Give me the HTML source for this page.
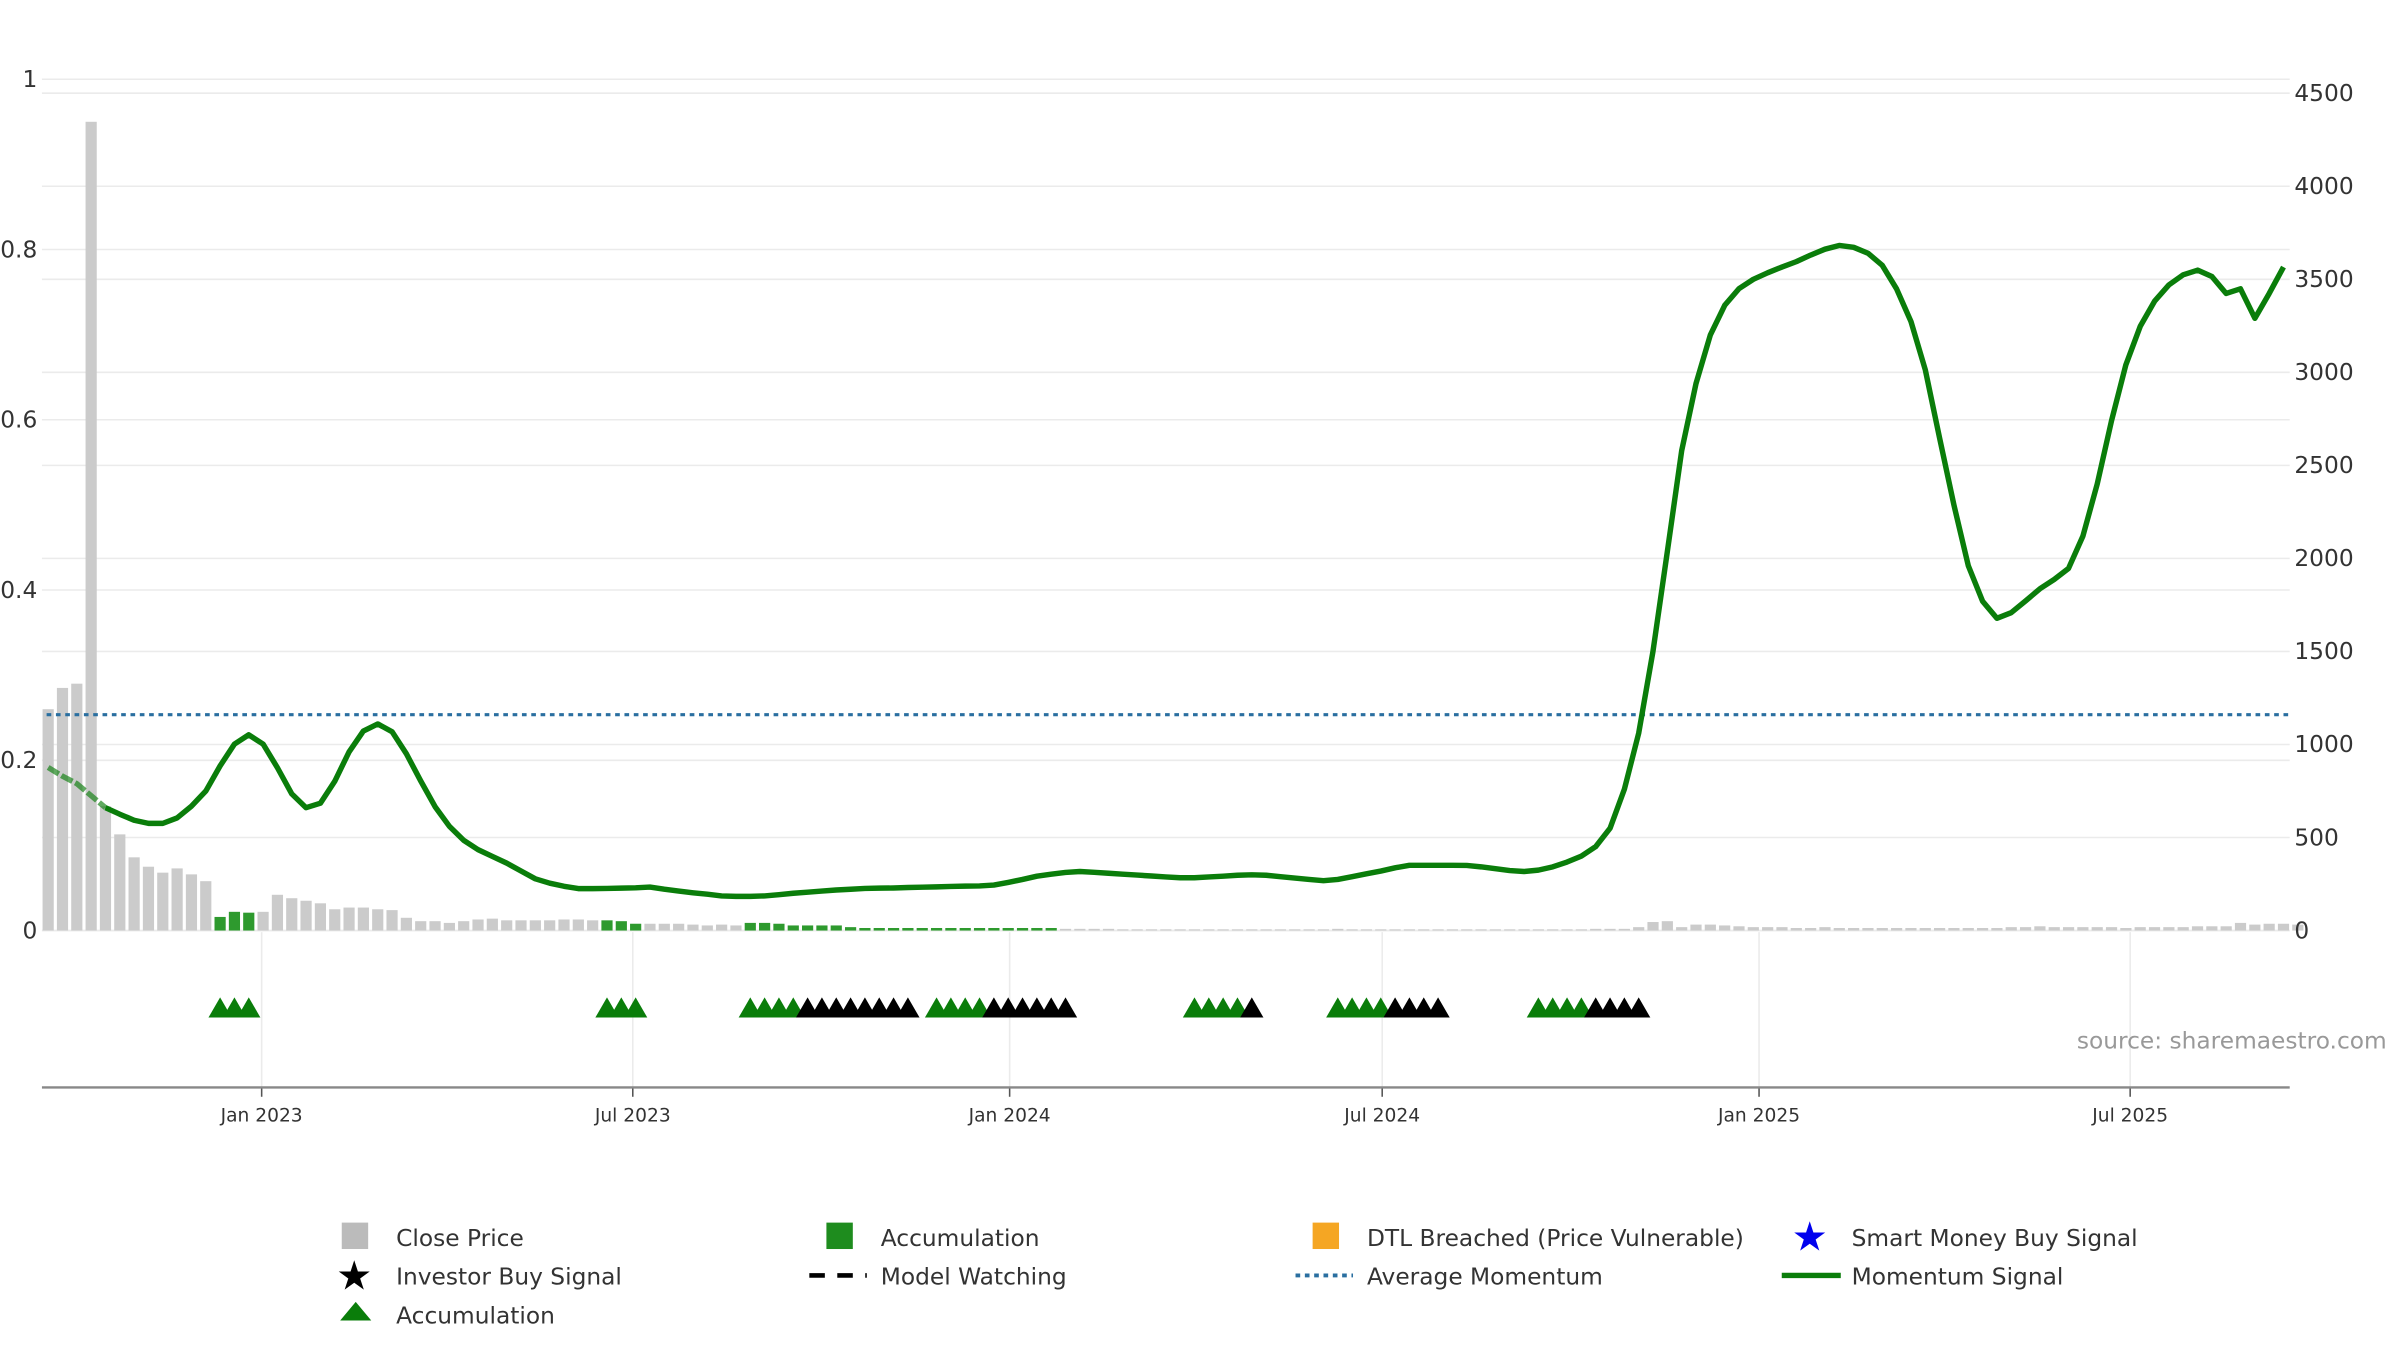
<!DOCTYPE html>
<html><head><meta charset="utf-8"><style>
html,body{margin:0;padding:0;background:#fff;}
svg{display:block;font-family:"DejaVu Sans","Liberation Sans",sans-serif;}
</style></head><body>
<svg id="chart" width="2400" height="1350" viewBox="0 0 1545 869" preserveAspectRatio="none" xmlns="http://www.w3.org/2000/svg">
<g id="grid"></g>
<g id="bars"></g>
<g id="lines"></g>
<g id="signals"></g>
<g id="axes"></g>
<text x="1337" y="675" font-size="15" fill="#999">source: sharemaestro.com</text>
<g id="legend" font-size="15" fill="#333">
  <rect x="220" y="787" width="17" height="17" fill="#bbb"/>
  <text x="255" y="802">Close Price</text>
  <rect x="532" y="787" width="17" height="17" fill="#1e8c1e"/>
  <text x="567" y="802">Accumulation</text>
  <rect x="845" y="787" width="17" height="17" fill="#f5a623"/>
  <text x="880" y="802">DTL Breached (Price Vulnerable)</text>
  <text x="1165" y="805" font-size="26" fill="#0000ee" text-anchor="middle">★</text>
  <text x="1192" y="802">Smart Money Buy Signal</text>
  <text x="228" y="830" font-size="26" fill="#000" text-anchor="middle">★</text>
  <text x="255" y="827">Investor Buy Signal</text>
  <line x1="521" y1="821" x2="558" y2="821" stroke="#000" stroke-width="3" stroke-dasharray="10,8"/>
  <text x="567" y="827">Model Watching</text>
  <line x1="834" y1="821" x2="871" y2="821" stroke="#2a6fa0" stroke-width="2.5" stroke-dasharray="3,3"/>
  <text x="880" y="827">Average Momentum</text>
  <line x1="1147" y1="821" x2="1185" y2="821" stroke="#0a7d0a" stroke-width="3.5"/>
  <text x="1192" y="827">Momentum Signal</text>
  <polygon points="219,850 229,838 239,850" fill="#0a7d0a"/>
  <text x="255" y="852">Accumulation</text>
</g>
<script>
const closePrice = [0.26,0.285,0.29,0.95,0.146,0.113,0.086,0.075,0.068,0.073,0.066,0.058,0.016,0.022,0.021,0.022,0.042,0.038,0.035,0.032,0.025,0.027,0.027,0.025,0.024,0.015,0.011,0.011,0.009,0.011,0.013,0.014,0.012,0.012,0.012,0.012,0.013,0.013,0.012,0.012,0.011,0.008,0.008,0.008,0.008,0.007,0.006,0.007,0.006,0.009,0.009,0.008,0.006,0.006,0.006,0.006,0.004,0.003,0.003,0.003,0.003,0.003,0.003,0.003,0.003,0.003,0.003,0.003,0.003,0.003,0.003,0.002,0.002,0.002,0.002,0.001,0.001,0.001,0.001,0.001,0.001,0.001,0.001,0.001,0.001,0.001,0.001,0.001,0.001,0.001,0.002,0.001,0.001,0.001,0.001,0.001,0.001,0.001,0.001,0.001,0.001,0.001,0.001,0.001,0.001,0.001,0.001,0.001,0.002,0.002,0.002,0.004,0.01,0.011,0.004,0.007,0.007,0.006,0.005,0.004,0.004,0.004,0.003,0.003,0.004,0.003,0.003,0.003,0.003,0.003,0.003,0.003,0.003,0.003,0.003,0.003,0.003,0.004,0.004,0.005,0.004,0.004,0.004,0.004,0.004,0.003,0.004,0.004,0.004,0.004,0.005,0.005,0.005,0.009,0.007,0.008,0.008,0.007];
const accumulation = [0,0,0,0,0,0,0,0,0,0,0,0,1,1,1,0,0,0,0,0,0,0,0,0,0,0,0,0,0,0,0,0,0,0,0,0,0,0,0,1,1,1,0,0,0,0,0,0,0,1,1,1,1,1,1,1,1,1,1,1,1,1,1,1,1,1,1,1,1,1,1,0,0,0,0,0,0,0,0,0,0,0,0,0,0,0,0,0,0,0,0,0,0,0,0,0,0,0,0,0,0,0,0,0,0,0,0,0,0,0,0,0,0,0,0,0,0,0,0,0,0,0,0,0,0,0,0,0,0,0,0,0,0,0,0,0,0,0,0,0,0,0,0,0,0,0,0,0,0,0,0,0,0,0,0,0,0];
const momentum = [877,830,790,725,660,625,593,576,576,605,668,750,885,1002,1052,1002,875,735,660,685,802,960,1072,1110,1069,950,805,665,560,485,435,398,362,320,278,255,238,225,225,226,228,230,234,222,212,203,195,186,184,184,186,193,200,206,212,218,222,226,228,229,231,233,235,237,239,240,245,259,275,292,303,312,317,313,308,303,298,293,288,284,284,288,292,297,300,297,290,282,275,268,275,290,305,320,337,351,351,351,351,350,342,332,322,317,325,342,368,400,451,550,760,1060,1500,2040,2580,2940,3200,3360,3450,3500,3535,3566,3595,3630,3662,3682,3672,3640,3575,3449,3273,3014,2647,2288,1960,1770,1678,1708,1772,1837,1887,1946,2121,2400,2740,3040,3248,3382,3470,3524,3549,3515,3424,3449,3290,3424,3566];
const averageMomentum = 1160;
// signal: 0 none, 1 accumulation (green), 2 investor (black)
const signalIdx = [12,13,14,39,40,41,49,50,51,52,53,54,55,56,57,58,59,60,62,63,64,65,66,67,68,69,70,71,80,81,82,83,84,90,91,92,93,94,95,96,97,104,105,106,107,108,109,110,111];
const signalType = [1,1,1,1,1,1,1,1,1,1,2,2,2,2,2,2,2,2,1,1,1,1,2,2,2,2,2,2,1,1,1,1,2,1,1,1,1,2,2,2,2,1,1,1,1,2,2,2,2];
const leftTicks = [0,0.2,0.4,0.6,0.8,1];
const leftTickLabels = ["0","0.2","0.4","0.6","0.8","1"];
const rightTicks = [0,500,1000,1500,2000,2500,3000,3500,4000,4500];
const xTickIdx = [14.9,40.8,67.1,93.1,119.4,145.3];
const xTickLabels = ["Jan 2023","Jul 2023","Jan 2024","Jul 2024","Jan 2025","Jul 2025"];

const NS="http://www.w3.org/2000/svg";
const X0=31, XSTEP=(1470-31)/156, PL=27, PR=1474;
const xs=i=>X0+i*XSTEP;
const yL=v=>599-v*548;
const yR=v=>599-v*(539/4500);
function mk(tag,attrs,parent){const e=document.createElementNS(NS,tag);for(const k in attrs)e.setAttribute(k,attrs[k]);parent.appendChild(e);return e;}
const grid=document.getElementById('grid'),bars=document.getElementById('bars'),lines=document.getElementById('lines'),sig=document.getElementById('signals'),axes=document.getElementById('axes');

leftTicks.forEach((t,k)=>{
  const g=mk('line',{x1:PL,x2:PR,y1:yL(t),y2:yL(t),stroke:'#ebebeb','stroke-width':1},grid);
  
  
  const tx=mk('text',{x:24,y:yL(t)+5,'font-size':15,fill:'#333','text-anchor':'end'},axes);
  tx.textContent=leftTickLabels[k];
  
  
});
rightTicks.forEach(t=>{
  const g=mk('line',{x1:PL,x2:PR,y1:yR(t),y2:yR(t),stroke:'#ebebeb','stroke-width':1},grid);
  
  
  const tx=mk('text',{x:1477,y:yR(t)+5,'font-size':15,fill:'#333'},axes);
  tx.textContent=String(t);
  
  
});
xTickIdx.forEach((ti,k)=>{
  const x=xs(ti);
  const g=mk('line',{x1:x,x2:x,y1:600,y2:700,stroke:'#ebebeb','stroke-width':1},grid);
  
  
  const tk=mk('line',{x1:x,x2:x,y1:700,y2:706,stroke:'#555','stroke-width':1},axes);
  
  
  const tx=mk('text',{x:x,y:722,'font-size':12,fill:'#333','text-anchor':'middle'},axes);
  tx.textContent=xTickLabels[k];
  
  
});
const ax=mk('line',{x1:PL,x2:PR,y1:700,y2:700,stroke:'#888','stroke-width':1.5},axes);



closePrice.forEach((v,i)=>{
  const h=Math.max(v*548,0.8);
  const r=mk('rect',{x:xs(i)-3.6,y:599-h,width:7.2,height:h,fill:accumulation[i]?'#2e9a2e':'#cbcbcb'},bars);
  
  
});

const av=mk('line',{x1:PL+3,x2:PR,y1:yR(averageMomentum),y2:yR(averageMomentum),stroke:'#2a6fa0','stroke-width':2,'stroke-dasharray':'3,3'},lines);



let d1='',d2='';
momentum.forEach((v,i)=>{
  const p=xs(i).toFixed(1)+','+yR(v).toFixed(1);
  if(i<=4)d1+=(i?'L':'M')+p;
  if(i>=4)d2+=(i===4?'M':'L')+p;
});
const p1=mk('path',{d:d1,fill:'none',stroke:'#0a7d0a','stroke-opacity':0.65,'stroke-width':3.5,'stroke-dasharray':'8,2'},lines);


const p2=mk('path',{d:d2,fill:'none',stroke:'#0a7d0a','stroke-width':3.5,'stroke-linejoin':'round'},lines);



signalIdx.forEach((i,k)=>{
  const x=xs(i);
  const t=mk('polygon',{points:(x-7.5)+',655 '+x+',642 '+(x+7.5)+',655',fill:signalType[k]===1?'#0a7d0a':'#000'},sig);
  
  
});
</script>
</svg>
</body></html>
